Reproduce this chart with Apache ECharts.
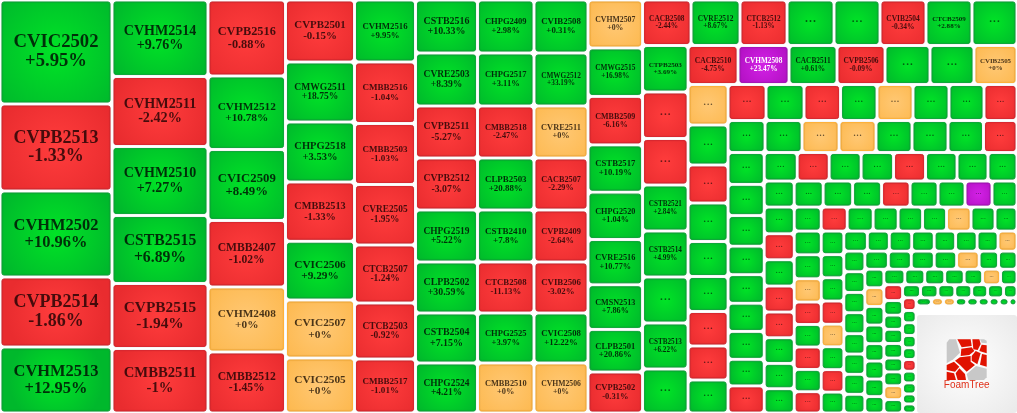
<!DOCTYPE html>
<html>
<head>
<meta charset="utf-8">
<style>html,body{margin:0;padding:0;background:#fff}#c{width:1017px;height:413px}</style>
<script src="https://cdn.jsdelivr.net/npm/echarts@6/dist/echarts.min.js"></script>
</head>
<body>
<div id="c"></div>
<script>
// Tile names and changes (hidden tiles beyond these lists show "...")
const tileNames = [
 'CVIC2502','CVPB2513','CVHM2502','CVPB2514','CVHM2513',
 'CVHM2514','CVHM2511','CVHM2510','CSTB2515','CVPB2515','CMBB2511',
 'CVPB2516','CVHM2512','CVIC2509','CMBB2407','CVHM2408','CMBB2512',
 'CVPB2501','CMWG2511','CHPG2518','CMBB2513','CVIC2506','CVIC2507','CVIC2505',
 'CVHM2516','CMBB2516','CMBB2503','CVRE2505','CTCB2507','CTCB2503','CMBB2517',
 'CSTB2516','CVRE2503','CVPB2511','CVPB2512','CHPG2519','CLPB2502','CSTB2504','CHPG2524',
 'CHPG2409','CHPG2517','CMBB2518','CLPB2503','CSTB2410','CTCB2508','CHPG2525','CMBB2510',
 'CVIB2508','CMWG2512','CVRE2511','CACB2507','CVPB2409','CVIB2506','CVIC2508','CVHM2506',
 'CVHM2507','CMWG2515','CMBB2509','CSTB2517','CHPG2520','CVRE2516','CMSN2513','CLPB2501','CVPB2502',
 'CACB2508','CVRE2512','CTCB2512','...','...','CVIB2504','CTCB2509','...',
 'CTPB2503','...','...','CSTB2521','CSTB2514','...','CSTB2513','...',
 'CACB2510','CVHM2508','CACB2511','CVPB2506','...','...','CVIB2505'
];
const tileChanges = [
 '+5.95%','-1.33%','+10.96%','-1.86%','+12.95%',
 '+9.76%','-2.42%','+7.27%','+6.89%','-1.94%','-1%',
 '-0.88%','+10.78%','+8.49%','-1.02%','+0%','-1.45%',
 '-0.15%','+18.75%','+3.53%','-1.33%','+9.29%','+0%','+0%',
 '+9.95%','-1.04%','-1.03%','-1.95%','-1.24%','-0.92%','-1.01%',
 '+10.33%','+8.39%','-5.27%','-3.07%','+5.22%','+30.59%','+7.15%','+4.21%',
 '+2.98%','+3.11%','-2.47%','+20.88%','+7.8%','-11.13%','+3.97%','+0%',
 '+0.31%','+33.19%','+0%','-2.29%','-2.64%','-3.02%','+12.22%','+0%',
 '+0%','+16.98%','-6.16%','+10.19%','+1.04%','+10.77%','+7.86%','+20.86%','-0.31%',
 '-2.44%','+8.67%','-1.13%','','','-0.34%','+2.88%','',
 '+3.69%','','','+2.84%','+4.99%','','+6.22%','',
 '-4.75%','+23.47%','+0.61%','-0.09%','','','+0%'
];
// Tile weights, one list per strip
const tileValues = [
 [11648,9744,9632,7840,7392],
 [7344,6720,6624,6528,6240,6192],
 [5890,5696,5502,5154,5038,4728],
 [4278,4140,4140,4092,4050,4002,3795],
 [3782,3752,3721,3691,3538,3416,3294],
 [3286,3286,3224,3224,3224,3162,3100,3100],
 [2995,2995,2938,2938,2938,2882,2825,2825],
 [2862,2862,2808,2808,2808,2754,2700,2700],
 [2616,2643,2643,2578,2583,2469,2436,2322,2235],
 [2207,2230,2139,2139,2093,2093,2093,2048],
 [2116,2116,2116,2093,2093,2093,2093,2002],
 [1950,1989,1872,1872,1755,1716,1677],
 [1620,1600,1520,1540,1400,1400,1380,1360,1320],
 [1368,1368,1314,1314,1296,1296,1260,1188],
 [1184,1184,1184,1184,1152,1152,1136,1072],
 [1152,1127,1105,1030,1033,1019,1008,961,979],
 [941,912,912,926,912,898,884,827],
 [780,754,767,754,741,728,702,702,650],
 [801,780,789,780,771,771,759,729],
 [648,624,624,600,588,576,588,576,528],
 [640,648,629,605,610,605,602,575],
 [533,524,527,524,511,518,509,473],
 [470,440,450,450,430,430,420,380],
 [433,435,426,441,428,426,420,393],
 [423,414,414,405,405,351,333],
 [353,355,355,353,331,342,334,312],
 [326,310,310,302,287,279,256],
 [296,272,265,265,272,259,259,259,250],
 [234,228,221,221,208,208,176],
 [171,166,171,166,158,157,158,149,135,122],
 [124,96,96,92,92,88,80,80,64]
];
// Tile state: g up, r down, o flat, p ceiling
const tileStates = [
 'grgrg','grggrr','rggror','rggrgoo','grrrrrr','ggrrgggg','ggrggrgo','ggorrrgo','ogrgggggr',
 'rgrggrgg','grrggggg','rpgrggo','ogrgggrrg','rgrgoggr','ggoogggr','ggggggggr','grggrggg',
 'ggggrggpg','grgrrggg','grggggogg','ggorgrgr','gggrogrg','gggggggo','gggggggg','ggggogg',
 'gogggggg','gggggog','rggggggog','ggggggg','rggggrgggg','googggggg'
].join('').split('');
// Direction in which each strip stacks its tiles
const stripKinds = 'vvvvvvvvvhvhvhhvhhvhvvhvhvhvhvh'.split('');

const W = 1017, H = 413;
const palette = {
  g: {c:'#00e426', e:'#00b82c', b:'#0fa83a', t:'rgba(0,0,0,.78)'},
  r: {c:'#ff3c3c', e:'#e92c2f', b:'#d92830', t:'rgba(20,0,0,.78)'},
  o: {c:'#ffc874', e:'#fdb950', b:'#ffb138', t:'rgba(20,10,0,.78)'},
  p: {c:'#d321e6', e:'#b411c5', b:'#a615b8', t:'#fff'}
};

const mc = document.createElement('canvas').getContext('2d');
mc.font = 'bold 100px "Liberation Serif"';
const emWidth = s => mc.measureText(s).width / 100;

// Lay the strips out in value space, spiralling inward
const tiles = [];
(function () {
  let x0 = 0, y0 = 0, x1 = W, y1 = H, i = 0;
  tileValues.forEach((strip, s) => {
    const sum = strip.reduce((a, b) => a + b, 0);
    if (stripKinds[s] === 'v') {
      const t = sum / (y1 - y0); let y = y0;
      strip.forEach(v => { const e = v / t; tiles.push([x0, y, x0 + t, y + e, i++]); y += e; });
      x0 += t;
    } else {
      const t = sum / (x1 - x0); let x = x0;
      strip.forEach(v => { const e = v / t; tiles.push([x, y0, x + e, y0 + t, i++]); x += e; });
      y0 += t;
    }
  });
})();

function renderTile(params, api) {
  const a = api.coord([api.value(0), api.value(1)]);
  const b = api.coord([api.value(2), api.value(3)]);
  const idx = api.value(4);
  const g = 1.5;
  const x = a[0] + g, y = a[1] + g, w = b[0] - a[0] - 2 * g, h = b[1] - a[1] - 2 * g;
  const st = palette[tileStates[idx]];
  const rect = {
    type: 'rect', shape: {x: x + .5, y: y + .5, width: Math.max(w - 1, 1), height: Math.max(h - 1, 1), r: 2},
    style: {
      fill: new echarts.graphic.RadialGradient(.5, .5, .75, [{offset: 0, color: st.c}, {offset: 1, color: st.e}]),
      stroke: st.b, lineWidth: 1, shadowBlur: 1, shadowColor: 'rgba(0,0,0,.2)'
    }
  };
  const name = tileNames[idx] || '...';
  const cx = x + w / 2, cy = y + h / 2;
  let text;
  if (name === '...') {
    const fs = Math.min(w * .36, h * .8);
    text = {type: 'text', style: {text: '...', x: cx, y: cy - fs * .28, align: 'center', verticalAlign: 'middle',
      font: 'normal ' + fs.toFixed(2) + 'px "Liberation Serif"', fill: 'rgba(0,0,0,.6)'}};
  } else {
    const fs = Math.min(.78 * w / emWidth(name), 19);
    text = {type: 'text', style: {text: name + '\n' + tileChanges[idx], x: cx, y: cy, align: 'center', verticalAlign: 'middle',
      lineHeight: fs * 1.03, font: 'bold ' + fs.toFixed(2) + 'px "Liberation Serif"', fill: st.t}};
  }
  return {type: 'group', children: [rect, text]};
}

const logoGray = [
 [[440,218],[448,208],[468,208],[480,248],[460,268],[440,280]],
 [[500,312],[528,288],[560,296],[560,322],[552,330],[505,330]],
 [[540,208],[552,208],[560,212],[560,220],[545,218]]
];
const logoRed = [
 [[472,208],[512,208],[515,228],[485,232]],
 [[517,208],[538,208],[542,222],[533,240],[520,238]],
 [[545,224],[560,226],[560,250],[538,243]],
 [[484,236],[515,232],[523,243],[508,255],[482,258]],
 [[527,243],[542,250],[532,283],[515,272],[515,258]],
 [[546,252],[560,255],[560,290],[540,284]],
 [[465,272],[480,262],[512,258],[512,275],[525,285],[500,305],[480,285]],
 [[440,285],[462,275],[478,290],[465,305],[440,300]],
 [[440,305],[462,310],[468,330],[440,330]],
 [[478,295],[495,312],[498,330],[473,330],[467,310]]
];

const chart = echarts.init(document.getElementById('c'));
chart.setOption({
  animation: false,
  backgroundColor: '#fff',
  grid: {left: 0, right: 0, top: 0, bottom: 0},
  xAxis: {type: 'value', min: 0, max: W, show: false},
  yAxis: {type: 'value', min: 0, max: H, inverse: true, show: false},
  series: [{type: 'custom', renderItem: renderTile, data: tiles, clip: false, silent: true,
    encode: {x: [0, 2], y: [1, 3]}}],
  graphic: [{
    type: 'rect', x: 917, y: 315, z: 10,
    shape: {width: 100, height: 98, r: 3},
    style: {fill: new echarts.graphic.RadialGradient(.5, .5, .7, [{offset: 0, color: '#ffffff'}, {offset: 1, color: '#eaeaea'}])}
  }, {
    type: 'group', x: 800, y: 270, scaleX: 1 / 3, scaleY: 1 / 3,
    children: logoGray.map(p => ({type: 'polygon', z: 11, shape: {points: p}, style: {fill: '#c8c8c8'}}))
      .concat(logoRed.map(p => ({type: 'polygon', z: 11, shape: {points: p}, style: {fill: '#e01200'}})))
  }, {
    type: 'text', z: 12, x: 966.7, y: 385,
    style: {text: 'FoamTree', align: 'center', verticalAlign: 'middle', font: '10px "Liberation Sans"', fill: '#e0301a'}
  }]
});
</script>
</body>
</html>
